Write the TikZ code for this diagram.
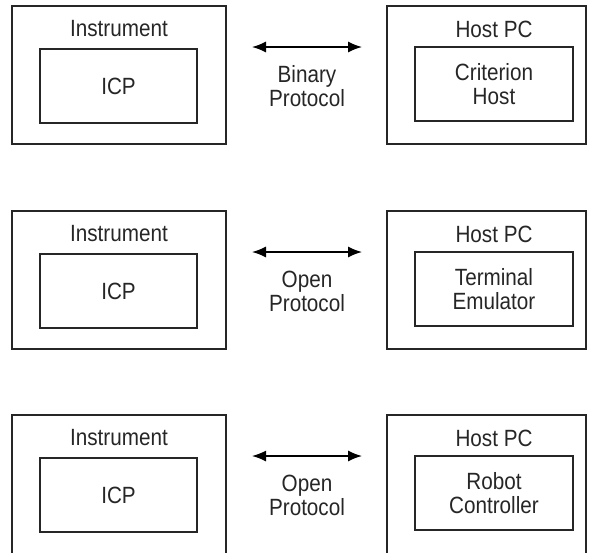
\documentclass[tikz,border=0pt]{standalone}
\usepackage{fontspec}
\setmainfont{Liberation Sans}[FakeStretch=0.88]
\usetikzlibrary{arrows.meta}
\begin{document}
\begin{tikzpicture}[x=1pt,y=-1pt,
  box/.style={draw=black!85,line width=1.4pt,inner sep=0pt,outer sep=0pt},
  lbl/.style={font=\fontsize{23.5}{24}\selectfont,inner sep=0pt,align=center,text=black!85},
  link/.style={line width=1.4pt,{Latex[length=14pt,width=11pt]}-{Latex[length=14pt,width=11pt]}}]
\useasboundingbox (0,0) rectangle (591,552);
\foreach \r/\o/\hh/\prot/\hostA/\hostB in {1/0/138/Binary/Criterion/Host,2/205/138/Open/Terminal/Emulator,3/409/146/Open/Robot/Controller}{
  \node[box,minimum width=214pt,minimum height=\hh pt] (lo\r) at (119,6+\o+\hh/2) {};
  \node[box,minimum width=157pt,minimum height=74pt,lbl] (li\r) at (118.5,86+\o) {ICP};
  \node[lbl] (lt\r) at (119,29+\o) {Instrument};
  \node[box,minimum width=199pt,minimum height=\hh pt] (ro\r) at (486.5,6+\o+\hh/2) {};
  \node[box,minimum width=158pt,minimum height=74pt,lbl] (ri\r) at (494,84+\o) {\hostA\\\hostB};
  \node[lbl] (rt\r) at (494,29+\o) {Host PC};
  \coordinate (a\r) at (252,47+\o);
  \coordinate (b\r) at (362,47+\o);
  \draw[link] (a\r) -- (b\r);
  \node[lbl] (p\r) at (307,86+\o) {\prot\\Protocol};
}
\end{tikzpicture}
\end{document}
